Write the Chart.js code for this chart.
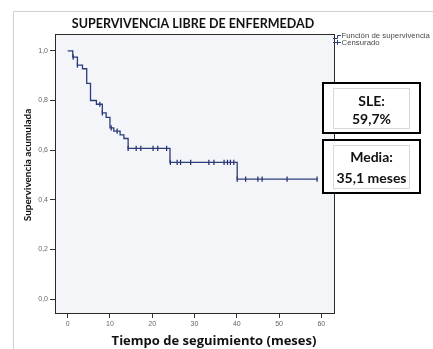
<!DOCTYPE html>
<html>
<head>
<meta charset="utf-8">
<script src="https://cdn.jsdelivr.net/npm/chart.js@4.4.1/dist/chart.umd.min.js"></script>
<style>
html,body{margin:0;padding:0;background:#fff;}
#wrap{width:433px;height:349px;position:relative;}
</style>
</head>
<body>
<div id="wrap"><canvas id="c" width="433" height="349"></canvas></div>
<script>
// Kaplan-Meier step points (time in months, cumulative survival)
const survTimes  = [0, 1.2, 2.3, 3.5, 4.5, 5.4, 6.8, 8.2, 9.1, 10.0, 10.9, 12.4, 13.3, 14.3, 24.2, 40.1, 59.0];
const survValues = [1.0, 0.975, 0.943, 0.928, 0.869, 0.800, 0.785, 0.750, 0.732, 0.690, 0.677, 0.662, 0.647, 0.607, 0.551, 0.483, 0.483];
// Censored observations
const censTimes  = [1.3, 2.3, 7.6, 8.2, 10.3, 11.7, 14.3, 16.2, 17.3, 20.2, 21.3, 23.4, 24.3, 25.9, 26.7, 29.1, 33.4, 34.6, 37.0, 37.8, 38.5, 39.3, 40.1, 42.1, 45.0, 46.0, 51.9, 59.0];
const censValues = [0.975, 0.943, 0.785, 0.750, 0.690, 0.677, 0.607, 0.607, 0.607, 0.607, 0.607, 0.607, 0.551, 0.551, 0.551, 0.551, 0.551, 0.551, 0.551, 0.551, 0.551, 0.551, 0.483, 0.483, 0.483, 0.483, 0.483, 0.483];
// Tick labels
const xTicks = [0, 10, 20, 30, 40, 50, 60];
const yTicks = [0, 0.2, 0.4, 0.6, 0.8, 1.0];
const titleText = "SUPERVIVENCIA LIBRE DE ENFERMEDAD";
const xTitle = "Tiempo de seguimiento (meses)";
const yTitle = "Supervivencia acumulada";
const legendLabels = ["Función de supervivencia", "Censurado"];
const boxSLE = ["SLE:", "59,7%"];
const boxMedia = ["Media:", "35,1 meses"];

const lineColor = '#2d3c7c';
const tickFont = {family: 'Liberation Sans', size: 7};

const decor = {
  id: 'decor',
  beforeDraw(chart) {
    const ctx = chart.ctx, ca = chart.chartArea;
    ctx.save();
    ctx.fillStyle = '#f4f5f9';
    ctx.fillRect(ca.left, ca.top, ca.right - ca.left, ca.bottom - ca.top);
    ctx.restore();
  },
  afterDraw(chart) {
    const ctx = chart.ctx, ca = chart.chartArea;
    ctx.save();
    // outer frame
    ctx.strokeStyle = '#cfcfcf';
    ctx.lineWidth = 1;
    ctx.beginPath();
    ctx.moveTo(13.5, 349); ctx.lineTo(13.5, 11.5); ctx.lineTo(433, 11.5);
    ctx.stroke();
    // plot border
    ctx.strokeStyle = '#2a2a2a';
    ctx.strokeRect(Math.round(ca.left) + 0.5, Math.round(ca.top) + 0.5, Math.round(ca.right - ca.left), Math.round(ca.bottom - ca.top));
    // titles
    ctx.fillStyle = '#111';
    ctx.textAlign = 'center';
    ctx.textBaseline = 'alphabetic';
    ctx.font = 'bold 12.5px Lato';
    ctx.fillText(titleText, 193, 28);
    ctx.font = 'bold 13px "Open Sans"';
    ctx.fillText(xTitle, 214, 345);
    ctx.save();
    ctx.translate(31, 165);
    ctx.rotate(-Math.PI / 2);
    ctx.font = 'bold 10px Lato';
    ctx.fillText(yTitle, 0, 0);
    ctx.restore();
    // legend
    ctx.strokeStyle = lineColor;
    ctx.lineWidth = 1;
    ctx.beginPath();
    ctx.moveTo(333, 38.5); ctx.lineTo(337.5, 38.5); ctx.lineTo(337.5, 35.5); ctx.lineTo(341, 35.5);
    ctx.moveTo(333, 42.5); ctx.lineTo(341, 42.5);
    ctx.moveTo(337.5, 40); ctx.lineTo(337.5, 45);
    ctx.stroke();
    ctx.fillStyle = '#4a4a4a';
    ctx.textAlign = 'left';
    ctx.textBaseline = 'middle';
    ctx.font = '7.8px Liberation Sans';
    ctx.fillText(legendLabels[0], 341.5, 36);
    ctx.fillText(legendLabels[1], 341.5, 43);
    // boxes
    function box(x1, y1, x2, y2, lines, ys) {
      ctx.fillStyle = '#fff';
      ctx.fillRect(x1, y1, x2 - x1, y2 - y1);
      ctx.strokeStyle = '#000';
      ctx.lineWidth = 2;
      ctx.strokeRect(x1, y1, x2 - x1, y2 - y1);
      ctx.strokeStyle = '#d8d8d8';
      ctx.lineWidth = 1;
      ctx.strokeRect(x1 + 10.5, y1 + 5.5, x2 - x1 - 21, y2 - y1 - 10);
      ctx.fillStyle = '#111';
      ctx.textAlign = 'center';
      ctx.textBaseline = 'alphabetic';
      ctx.font = 'bold 14px Lato';
      const cx = (x1 + x2) / 2;
      ctx.fillText(lines[0], cx, ys[0]);
      ctx.fillText(lines[1], cx, ys[1]);
    }
    box(323, 83, 420, 133, boxSLE, [106, 124]);
    box(323, 140, 420, 193, boxMedia, [162, 183]);
    ctx.restore();
  }
};

new Chart(document.getElementById('c'), {
  type: 'line',
  data: {
    datasets: [
      {
        label: legendLabels[0],
        data: survTimes.map((t, i) => ({x: t, y: survValues[i]})),
        stepped: 'before',
        borderColor: lineColor,
        borderWidth: 1.3,
        pointRadius: 0,
        fill: false
      },
      {
        label: legendLabels[1],
        type: 'scatter',
        data: censTimes.map((t, i) => ({x: t, y: censValues[i]})),
        showLine: false,
        pointStyle: 'line',
        rotation: 90,
        pointRadius: 2.6,
        borderColor: '#1c2660',
        borderWidth: 1.2,
        backgroundColor: '#1c2660'
      }
    ]
  },
  options: {
    responsive: false,
    animation: false,
    events: [],
    layout: {padding: {left: 0, right: 99, top: 34, bottom: 0}},
    plugins: {legend: {display: false}, tooltip: {enabled: false}, title: {display: false}},
    scales: {
      x: {
        type: 'linear',
        min: -3, max: 63,
        afterBuildTicks: s => { s.ticks = xTicks.map(v => ({value: v})); },
        afterFit: s => { s.height = 36; },
        grid: {drawOnChartArea: false, drawTicks: true, tickLength: 5, color: '#333'},
        border: {display: true, color: '#2a2a2a'},
        ticks: {font: tickFont, color: '#666', padding: 2, maxRotation: 0,
          callback: v => String(v)}
      },
      y: {
        type: 'linear',
        min: -0.056, max: 1.068,
        afterBuildTicks: s => { s.ticks = yTicks.map(v => ({value: v})); },
        afterFit: s => { s.width = 55; },
        grid: {drawOnChartArea: false, drawTicks: true, tickLength: 5, color: '#333'},
        border: {display: true, color: '#2a2a2a'},
        ticks: {font: tickFont, color: '#666', padding: 2,
          callback: v => v.toFixed(1).replace('.', ',')}
      }
    }
  },
  plugins: [decor]
});
</script>
</body>
</html>
